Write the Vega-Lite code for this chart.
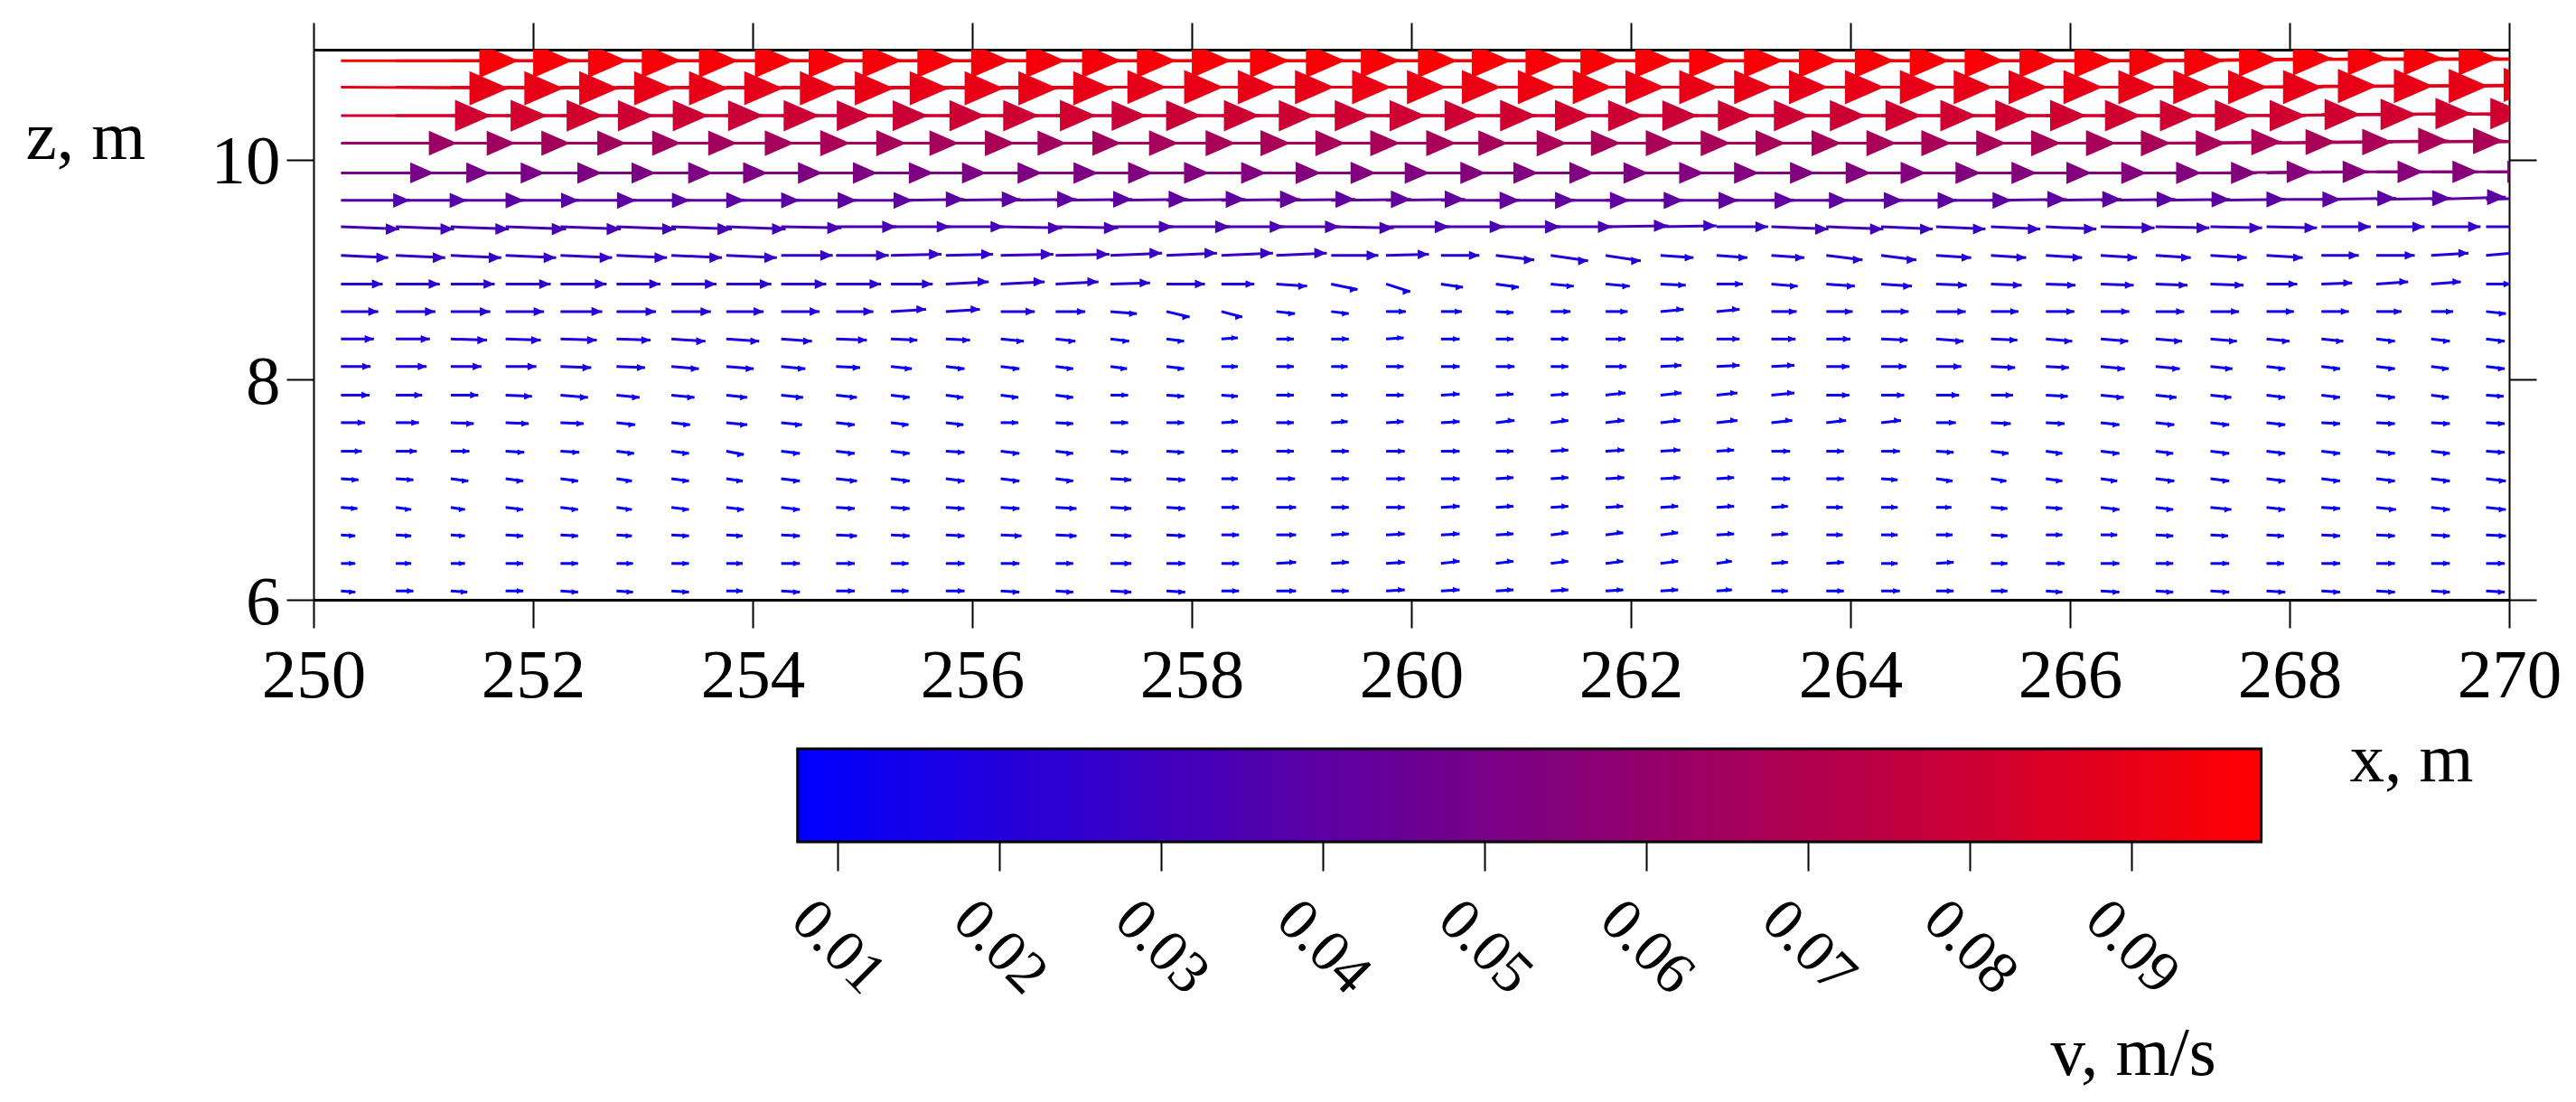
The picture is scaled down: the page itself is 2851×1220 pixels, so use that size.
{"$schema":"https://vega.github.io/schema/vega-lite/v6.json","background":"white","padding":{"left":28,"top":24,"right":0,"bottom":20},"bounds":"flush","spacing":165,"config":{"view":{"stroke":null},"axis":{"labelFont":"Liberation Serif","titleFont":"Liberation Serif","labelFontSize":77,"titleFontSize":77,"titleFontWeight":"normal","labelColor":"black","titleColor":"black","domainColor":"black","tickColor":"black","grid":false,"labelFlush":false,"labelOverlap":false}},"datasets":{"arrows":[
{"x":250.25,"z":10.9,"xe":251.87,"ze":10.9,"v":0.095},{"x":250.75,"z":10.9,"xe":252.36,"ze":10.9,"v":0.095},{"x":251.25,"z":10.9,"xe":252.86,"ze":10.9,"v":0.095},{"x":251.75,"z":10.9,"xe":253.35,"ze":10.9,"v":0.095},{"x":252.25,"z":10.9,"xe":253.87,"ze":10.9,"v":0.095},{"x":252.76,"z":10.9,"xe":254.38,"ze":10.9,"v":0.095},{"x":253.26,"z":10.9,"xe":254.87,"ze":10.9,"v":0.095},{"x":253.76,"z":10.9,"xe":255.36,"ze":10.9,"v":0.095},{"x":254.26,"z":10.9,"xe":255.86,"ze":10.9,"v":0.095},{"x":254.76,"z":10.9,"xe":256.35,"ze":10.9,"v":0.094},{"x":255.26,"z":10.9,"xe":256.85,"ze":10.9,"v":0.094},{"x":255.76,"z":10.9,"xe":257.36,"ze":10.9,"v":0.094},{"x":256.26,"z":10.9,"xe":257.86,"ze":10.9,"v":0.095},{"x":256.76,"z":10.9,"xe":258.36,"ze":10.9,"v":0.095},{"x":257.26,"z":10.9,"xe":258.89,"ze":10.9,"v":0.096},{"x":257.77,"z":10.9,"xe":259.4,"ze":10.9,"v":0.096},{"x":258.27,"z":10.9,"xe":259.9,"ze":10.9,"v":0.096},{"x":258.77,"z":10.9,"xe":260.42,"ze":10.9,"v":0.097},{"x":259.27,"z":10.9,"xe":260.91,"ze":10.9,"v":0.097},{"x":259.77,"z":10.9,"xe":261.4,"ze":10.9,"v":0.096},{"x":260.27,"z":10.9,"xe":261.9,"ze":10.9,"v":0.096},{"x":260.77,"z":10.9,"xe":262.4,"ze":10.9,"v":0.096},{"x":261.27,"z":10.9,"xe":262.89,"ze":10.9,"v":0.096},{"x":261.77,"z":10.9,"xe":263.39,"ze":10.9,"v":0.096},{"x":262.27,"z":10.9,"xe":263.89,"ze":10.9,"v":0.096},{"x":262.78,"z":10.9,"xe":264.4,"ze":10.9,"v":0.096},{"x":263.28,"z":10.9,"xe":264.9,"ze":10.9,"v":0.096},{"x":263.78,"z":10.9,"xe":265.4,"ze":10.9,"v":0.096},{"x":264.28,"z":10.9,"xe":265.9,"ze":10.9,"v":0.095},{"x":264.78,"z":10.9,"xe":266.4,"ze":10.9,"v":0.095},{"x":265.28,"z":10.9,"xe":266.9,"ze":10.9,"v":0.095},{"x":265.78,"z":10.9,"xe":267.4,"ze":10.9,"v":0.095},{"x":266.28,"z":10.9,"xe":267.9,"ze":10.91,"v":0.095},{"x":266.78,"z":10.9,"xe":268.39,"ze":10.92,"v":0.095},{"x":267.28,"z":10.9,"xe":268.89,"ze":10.92,"v":0.095},{"x":267.79,"z":10.91,"xe":269.4,"ze":10.92,"v":0.095},{"x":268.29,"z":10.91,"xe":269.9,"ze":10.92,"v":0.095},{"x":268.79,"z":10.91,"xe":270.4,"ze":10.92,"v":0.095},{"x":269.29,"z":10.91,"xe":270.9,"ze":10.92,"v":0.095},{"x":269.79,"z":10.91,"xe":271.4,"ze":10.92,"v":0.095},
{"x":250.25,"z":10.66,"xe":251.78,"ze":10.65,"v":0.09},{"x":250.75,"z":10.66,"xe":252.28,"ze":10.65,"v":0.09},{"x":251.25,"z":10.66,"xe":252.78,"ze":10.65,"v":0.09},{"x":251.75,"z":10.66,"xe":253.28,"ze":10.65,"v":0.09},{"x":252.25,"z":10.66,"xe":253.78,"ze":10.65,"v":0.09},{"x":252.76,"z":10.66,"xe":254.28,"ze":10.65,"v":0.089},{"x":253.26,"z":10.66,"xe":254.79,"ze":10.65,"v":0.09},{"x":253.76,"z":10.66,"xe":255.29,"ze":10.65,"v":0.09},{"x":254.26,"z":10.66,"xe":255.79,"ze":10.65,"v":0.09},{"x":254.76,"z":10.66,"xe":256.29,"ze":10.65,"v":0.09},{"x":255.26,"z":10.66,"xe":256.78,"ze":10.65,"v":0.09},{"x":255.76,"z":10.66,"xe":257.28,"ze":10.65,"v":0.09},{"x":256.26,"z":10.66,"xe":257.77,"ze":10.66,"v":0.089},{"x":256.76,"z":10.66,"xe":258.29,"ze":10.66,"v":0.09},{"x":257.26,"z":10.66,"xe":258.78,"ze":10.66,"v":0.09},{"x":257.77,"z":10.66,"xe":259.3,"ze":10.66,"v":0.09},{"x":258.27,"z":10.66,"xe":259.82,"ze":10.66,"v":0.091},{"x":258.77,"z":10.66,"xe":260.32,"ze":10.66,"v":0.091},{"x":259.27,"z":10.66,"xe":260.82,"ze":10.66,"v":0.091},{"x":259.77,"z":10.66,"xe":261.33,"ze":10.66,"v":0.092},{"x":260.27,"z":10.66,"xe":261.83,"ze":10.66,"v":0.092},{"x":260.77,"z":10.66,"xe":262.31,"ze":10.66,"v":0.091},{"x":261.27,"z":10.66,"xe":262.8,"ze":10.66,"v":0.09},{"x":261.77,"z":10.66,"xe":263.3,"ze":10.66,"v":0.09},{"x":262.27,"z":10.66,"xe":263.8,"ze":10.66,"v":0.09},{"x":262.78,"z":10.66,"xe":264.31,"ze":10.66,"v":0.09},{"x":263.28,"z":10.66,"xe":264.81,"ze":10.66,"v":0.09},{"x":263.78,"z":10.66,"xe":265.3,"ze":10.66,"v":0.09},{"x":264.28,"z":10.66,"xe":265.8,"ze":10.66,"v":0.09},{"x":264.78,"z":10.66,"xe":266.3,"ze":10.66,"v":0.09},{"x":265.28,"z":10.66,"xe":266.8,"ze":10.66,"v":0.09},{"x":265.78,"z":10.66,"xe":267.3,"ze":10.66,"v":0.09},{"x":266.28,"z":10.66,"xe":267.8,"ze":10.66,"v":0.09},{"x":266.78,"z":10.66,"xe":268.3,"ze":10.66,"v":0.09},{"x":267.28,"z":10.66,"xe":268.8,"ze":10.67,"v":0.09},{"x":267.79,"z":10.66,"xe":269.31,"ze":10.67,"v":0.09},{"x":268.29,"z":10.67,"xe":269.81,"ze":10.67,"v":0.09},{"x":268.79,"z":10.67,"xe":270.31,"ze":10.68,"v":0.09},{"x":269.29,"z":10.67,"xe":270.81,"ze":10.68,"v":0.09},{"x":269.79,"z":10.67,"xe":271.31,"ze":10.68,"v":0.09},
{"x":250.25,"z":10.4,"xe":251.62,"ze":10.4,"v":0.081},{"x":250.75,"z":10.4,"xe":252.13,"ze":10.4,"v":0.082},{"x":251.25,"z":10.4,"xe":252.64,"ze":10.4,"v":0.082},{"x":251.75,"z":10.4,"xe":253.1,"ze":10.4,"v":0.08},{"x":252.25,"z":10.4,"xe":253.6,"ze":10.4,"v":0.08},{"x":252.76,"z":10.4,"xe":254.1,"ze":10.4,"v":0.079},{"x":253.26,"z":10.4,"xe":254.61,"ze":10.4,"v":0.08},{"x":253.76,"z":10.4,"xe":255.09,"ze":10.4,"v":0.079},{"x":254.26,"z":10.4,"xe":255.6,"ze":10.4,"v":0.079},{"x":254.76,"z":10.4,"xe":256.12,"ze":10.4,"v":0.08},{"x":255.26,"z":10.4,"xe":256.61,"ze":10.4,"v":0.08},{"x":255.76,"z":10.4,"xe":257.13,"ze":10.4,"v":0.081},{"x":256.26,"z":10.4,"xe":257.59,"ze":10.4,"v":0.078},{"x":256.76,"z":10.4,"xe":258.09,"ze":10.4,"v":0.079},{"x":257.26,"z":10.4,"xe":258.62,"ze":10.4,"v":0.08},{"x":257.77,"z":10.4,"xe":259.12,"ze":10.4,"v":0.08},{"x":258.27,"z":10.4,"xe":259.63,"ze":10.4,"v":0.08},{"x":258.77,"z":10.4,"xe":260.13,"ze":10.4,"v":0.08},{"x":259.27,"z":10.4,"xe":260.63,"ze":10.4,"v":0.08},{"x":259.77,"z":10.4,"xe":261.14,"ze":10.4,"v":0.081},{"x":260.27,"z":10.4,"xe":261.64,"ze":10.4,"v":0.081},{"x":260.77,"z":10.4,"xe":262.12,"ze":10.4,"v":0.08},{"x":261.27,"z":10.4,"xe":262.61,"ze":10.4,"v":0.079},{"x":261.77,"z":10.4,"xe":263.12,"ze":10.4,"v":0.08},{"x":262.27,"z":10.4,"xe":263.63,"ze":10.4,"v":0.08},{"x":262.78,"z":10.4,"xe":264.14,"ze":10.4,"v":0.08},{"x":263.28,"z":10.4,"xe":264.65,"ze":10.4,"v":0.081},{"x":263.78,"z":10.4,"xe":265.15,"ze":10.4,"v":0.081},{"x":264.28,"z":10.4,"xe":265.65,"ze":10.4,"v":0.081},{"x":264.78,"z":10.4,"xe":266.15,"ze":10.4,"v":0.081},{"x":265.28,"z":10.4,"xe":266.65,"ze":10.4,"v":0.081},{"x":265.78,"z":10.4,"xe":267.15,"ze":10.4,"v":0.081},{"x":266.28,"z":10.4,"xe":267.65,"ze":10.4,"v":0.081},{"x":266.78,"z":10.4,"xe":268.15,"ze":10.4,"v":0.081},{"x":267.28,"z":10.4,"xe":268.65,"ze":10.41,"v":0.081},{"x":267.79,"z":10.4,"xe":269.16,"ze":10.41,"v":0.081},{"x":268.29,"z":10.41,"xe":269.66,"ze":10.42,"v":0.081},{"x":268.79,"z":10.41,"xe":270.16,"ze":10.42,"v":0.081},{"x":269.29,"z":10.41,"xe":270.66,"ze":10.42,"v":0.081},{"x":269.79,"z":10.41,"xe":271.16,"ze":10.42,"v":0.081},
{"x":250.25,"z":10.15,"xe":251.31,"ze":10.15,"v":0.063},{"x":250.75,"z":10.15,"xe":251.84,"ze":10.15,"v":0.064},{"x":251.25,"z":10.15,"xe":252.34,"ze":10.15,"v":0.065},{"x":251.75,"z":10.15,"xe":252.85,"ze":10.15,"v":0.065},{"x":252.25,"z":10.15,"xe":253.35,"ze":10.15,"v":0.065},{"x":252.76,"z":10.15,"xe":253.86,"ze":10.15,"v":0.065},{"x":253.26,"z":10.15,"xe":254.38,"ze":10.15,"v":0.066},{"x":253.76,"z":10.15,"xe":254.89,"ze":10.15,"v":0.067},{"x":254.26,"z":10.15,"xe":255.4,"ze":10.15,"v":0.067},{"x":254.76,"z":10.15,"xe":255.88,"ze":10.15,"v":0.066},{"x":255.26,"z":10.15,"xe":256.39,"ze":10.15,"v":0.067},{"x":255.76,"z":10.15,"xe":256.86,"ze":10.15,"v":0.065},{"x":256.26,"z":10.15,"xe":257.36,"ze":10.15,"v":0.065},{"x":256.76,"z":10.15,"xe":257.88,"ze":10.15,"v":0.066},{"x":257.26,"z":10.15,"xe":258.4,"ze":10.15,"v":0.067},{"x":257.77,"z":10.15,"xe":258.9,"ze":10.15,"v":0.067},{"x":258.27,"z":10.15,"xe":259.4,"ze":10.15,"v":0.067},{"x":258.77,"z":10.15,"xe":259.9,"ze":10.15,"v":0.067},{"x":259.27,"z":10.15,"xe":260.41,"ze":10.15,"v":0.067},{"x":259.77,"z":10.15,"xe":260.88,"ze":10.15,"v":0.066},{"x":260.27,"z":10.15,"xe":261.42,"ze":10.15,"v":0.068},{"x":260.77,"z":10.15,"xe":261.91,"ze":10.15,"v":0.067},{"x":261.27,"z":10.15,"xe":262.41,"ze":10.15,"v":0.067},{"x":261.77,"z":10.15,"xe":262.91,"ze":10.15,"v":0.067},{"x":262.27,"z":10.15,"xe":263.41,"ze":10.15,"v":0.067},{"x":262.78,"z":10.15,"xe":263.92,"ze":10.15,"v":0.067},{"x":263.28,"z":10.15,"xe":264.42,"ze":10.15,"v":0.067},{"x":263.78,"z":10.15,"xe":264.92,"ze":10.15,"v":0.067},{"x":264.28,"z":10.15,"xe":265.42,"ze":10.15,"v":0.067},{"x":264.78,"z":10.15,"xe":265.92,"ze":10.15,"v":0.067},{"x":265.28,"z":10.15,"xe":266.42,"ze":10.15,"v":0.067},{"x":265.78,"z":10.15,"xe":266.92,"ze":10.15,"v":0.067},{"x":266.28,"z":10.15,"xe":267.42,"ze":10.15,"v":0.067},{"x":266.78,"z":10.15,"xe":267.93,"ze":10.16,"v":0.068},{"x":267.28,"z":10.15,"xe":268.42,"ze":10.16,"v":0.067},{"x":267.79,"z":10.15,"xe":268.94,"ze":10.16,"v":0.068},{"x":268.29,"z":10.16,"xe":269.45,"ze":10.17,"v":0.068},{"x":268.79,"z":10.16,"xe":269.95,"ze":10.17,"v":0.068},{"x":269.29,"z":10.16,"xe":270.45,"ze":10.17,"v":0.068},{"x":269.79,"z":10.16,"xe":270.95,"ze":10.17,"v":0.068},
{"x":250.25,"z":9.88,"xe":251.1,"ze":9.88,"v":0.05},{"x":250.75,"z":9.88,"xe":251.61,"ze":9.88,"v":0.05},{"x":251.25,"z":9.88,"xe":252.11,"ze":9.88,"v":0.051},{"x":251.75,"z":9.88,"xe":252.63,"ze":9.88,"v":0.052},{"x":252.25,"z":9.88,"xe":253.12,"ze":9.88,"v":0.051},{"x":252.76,"z":9.88,"xe":253.64,"ze":9.88,"v":0.052},{"x":253.26,"z":9.88,"xe":254.14,"ze":9.88,"v":0.052},{"x":253.76,"z":9.88,"xe":254.64,"ze":9.88,"v":0.052},{"x":254.26,"z":9.88,"xe":255.14,"ze":9.88,"v":0.052},{"x":254.76,"z":9.88,"xe":255.65,"ze":9.88,"v":0.052},{"x":255.26,"z":9.88,"xe":256.13,"ze":9.88,"v":0.051},{"x":255.76,"z":9.88,"xe":256.64,"ze":9.88,"v":0.052},{"x":256.26,"z":9.88,"xe":257.15,"ze":9.88,"v":0.052},{"x":256.76,"z":9.88,"xe":257.65,"ze":9.88,"v":0.053},{"x":257.26,"z":9.88,"xe":258.16,"ze":9.88,"v":0.053},{"x":257.77,"z":9.88,"xe":258.68,"ze":9.88,"v":0.053},{"x":258.27,"z":9.88,"xe":259.18,"ze":9.88,"v":0.054},{"x":258.77,"z":9.88,"xe":259.68,"ze":9.88,"v":0.054},{"x":259.27,"z":9.88,"xe":260.17,"ze":9.88,"v":0.053},{"x":259.77,"z":9.88,"xe":260.68,"ze":9.88,"v":0.054},{"x":260.27,"z":9.88,"xe":261.16,"ze":9.88,"v":0.053},{"x":260.77,"z":9.88,"xe":261.67,"ze":9.88,"v":0.053},{"x":261.27,"z":9.88,"xe":262.16,"ze":9.88,"v":0.052},{"x":261.77,"z":9.88,"xe":262.67,"ze":9.88,"v":0.053},{"x":262.27,"z":9.88,"xe":263.17,"ze":9.88,"v":0.053},{"x":262.78,"z":9.88,"xe":263.68,"ze":9.88,"v":0.053},{"x":263.28,"z":9.88,"xe":264.19,"ze":9.88,"v":0.054},{"x":263.78,"z":9.88,"xe":264.69,"ze":9.88,"v":0.054},{"x":264.28,"z":9.88,"xe":265.19,"ze":9.88,"v":0.054},{"x":264.78,"z":9.88,"xe":265.7,"ze":9.88,"v":0.054},{"x":265.28,"z":9.88,"xe":266.2,"ze":9.88,"v":0.054},{"x":265.78,"z":9.88,"xe":266.7,"ze":9.88,"v":0.054},{"x":266.28,"z":9.88,"xe":267.2,"ze":9.88,"v":0.054},{"x":266.78,"z":9.88,"xe":267.7,"ze":9.88,"v":0.054},{"x":267.28,"z":9.88,"xe":268.21,"ze":9.89,"v":0.055},{"x":267.79,"z":9.88,"xe":268.72,"ze":9.89,"v":0.055},{"x":268.29,"z":9.89,"xe":269.22,"ze":9.89,"v":0.055},{"x":268.79,"z":9.89,"xe":269.72,"ze":9.89,"v":0.055},{"x":269.29,"z":9.89,"xe":270.22,"ze":9.89,"v":0.055},{"x":269.79,"z":9.89,"xe":270.72,"ze":9.89,"v":0.055},
{"x":250.25,"z":9.63,"xe":250.88,"ze":9.63,"v":0.037},{"x":250.75,"z":9.63,"xe":251.4,"ze":9.63,"v":0.038},{"x":251.25,"z":9.63,"xe":251.92,"ze":9.63,"v":0.04},{"x":251.75,"z":9.63,"xe":252.42,"ze":9.63,"v":0.039},{"x":252.25,"z":9.63,"xe":252.94,"ze":9.63,"v":0.041},{"x":252.76,"z":9.63,"xe":253.43,"ze":9.63,"v":0.039},{"x":253.26,"z":9.63,"xe":253.93,"ze":9.63,"v":0.04},{"x":253.76,"z":9.63,"xe":254.43,"ze":9.63,"v":0.04},{"x":254.26,"z":9.63,"xe":254.95,"ze":9.63,"v":0.041},{"x":254.76,"z":9.63,"xe":255.46,"ze":9.63,"v":0.041},{"x":255.26,"z":9.63,"xe":255.93,"ze":9.64,"v":0.04},{"x":255.76,"z":9.63,"xe":256.44,"ze":9.64,"v":0.04},{"x":256.26,"z":9.63,"xe":256.95,"ze":9.64,"v":0.041},{"x":256.76,"z":9.63,"xe":257.46,"ze":9.64,"v":0.041},{"x":257.26,"z":9.63,"xe":257.97,"ze":9.64,"v":0.042},{"x":257.77,"z":9.63,"xe":258.49,"ze":9.64,"v":0.042},{"x":258.27,"z":9.63,"xe":258.99,"ze":9.64,"v":0.043},{"x":258.77,"z":9.63,"xe":259.49,"ze":9.64,"v":0.042},{"x":259.27,"z":9.63,"xe":260,"ze":9.64,"v":0.043},{"x":259.77,"z":9.63,"xe":260.49,"ze":9.64,"v":0.043},{"x":260.27,"z":9.63,"xe":260.99,"ze":9.63,"v":0.043},{"x":260.77,"z":9.63,"xe":261.49,"ze":9.63,"v":0.042},{"x":261.27,"z":9.63,"xe":261.99,"ze":9.63,"v":0.042},{"x":261.77,"z":9.63,"xe":262.48,"ze":9.63,"v":0.042},{"x":262.27,"z":9.63,"xe":262.98,"ze":9.63,"v":0.042},{"x":262.78,"z":9.63,"xe":263.49,"ze":9.63,"v":0.042},{"x":263.28,"z":9.63,"xe":263.98,"ze":9.63,"v":0.041},{"x":263.78,"z":9.63,"xe":264.48,"ze":9.63,"v":0.041},{"x":264.28,"z":9.63,"xe":264.97,"ze":9.63,"v":0.041},{"x":264.78,"z":9.63,"xe":265.47,"ze":9.63,"v":0.041},{"x":265.28,"z":9.63,"xe":265.97,"ze":9.64,"v":0.041},{"x":265.78,"z":9.63,"xe":266.47,"ze":9.64,"v":0.041},{"x":266.28,"z":9.63,"xe":266.96,"ze":9.64,"v":0.04},{"x":266.78,"z":9.63,"xe":267.46,"ze":9.64,"v":0.04},{"x":267.28,"z":9.63,"xe":267.96,"ze":9.64,"v":0.04},{"x":267.79,"z":9.64,"xe":268.47,"ze":9.64,"v":0.04},{"x":268.29,"z":9.64,"xe":268.97,"ze":9.65,"v":0.04},{"x":268.79,"z":9.64,"xe":269.47,"ze":9.65,"v":0.04},{"x":269.29,"z":9.64,"xe":269.97,"ze":9.66,"v":0.04},{"x":269.79,"z":9.64,"xe":270.47,"ze":9.66,"v":0.04},
{"x":250.25,"z":9.39,"xe":250.78,"ze":9.37,"v":0.031},{"x":250.75,"z":9.39,"xe":251.28,"ze":9.37,"v":0.032},{"x":251.25,"z":9.39,"xe":251.78,"ze":9.37,"v":0.032},{"x":251.75,"z":9.39,"xe":252.3,"ze":9.37,"v":0.033},{"x":252.25,"z":9.39,"xe":252.8,"ze":9.37,"v":0.033},{"x":252.76,"z":9.39,"xe":253.3,"ze":9.37,"v":0.032},{"x":253.26,"z":9.39,"xe":253.81,"ze":9.37,"v":0.033},{"x":253.76,"z":9.39,"xe":254.3,"ze":9.37,"v":0.032},{"x":254.26,"z":9.39,"xe":254.81,"ze":9.38,"v":0.033},{"x":254.76,"z":9.39,"xe":255.31,"ze":9.39,"v":0.033},{"x":255.26,"z":9.39,"xe":255.8,"ze":9.39,"v":0.032},{"x":255.76,"z":9.39,"xe":256.29,"ze":9.39,"v":0.032},{"x":256.26,"z":9.39,"xe":256.82,"ze":9.38,"v":0.033},{"x":256.76,"z":9.39,"xe":257.33,"ze":9.38,"v":0.033},{"x":257.26,"z":9.39,"xe":257.83,"ze":9.39,"v":0.033},{"x":257.77,"z":9.39,"xe":258.35,"ze":9.39,"v":0.034},{"x":258.27,"z":9.39,"xe":258.84,"ze":9.39,"v":0.033},{"x":258.77,"z":9.39,"xe":259.35,"ze":9.39,"v":0.034},{"x":259.27,"z":9.39,"xe":259.84,"ze":9.38,"v":0.033},{"x":259.77,"z":9.39,"xe":260.35,"ze":9.39,"v":0.034},{"x":260.27,"z":9.39,"xe":260.85,"ze":9.39,"v":0.034},{"x":260.77,"z":9.39,"xe":261.36,"ze":9.39,"v":0.035},{"x":261.27,"z":9.39,"xe":261.83,"ze":9.39,"v":0.033},{"x":261.77,"z":9.39,"xe":262.34,"ze":9.4,"v":0.033},{"x":262.27,"z":9.39,"xe":262.78,"ze":9.4,"v":0.03},{"x":262.78,"z":9.39,"xe":263.25,"ze":9.39,"v":0.028},{"x":263.28,"z":9.39,"xe":263.8,"ze":9.37,"v":0.031},{"x":263.78,"z":9.39,"xe":264.3,"ze":9.37,"v":0.031},{"x":264.28,"z":9.39,"xe":264.75,"ze":9.37,"v":0.028},{"x":264.78,"z":9.39,"xe":265.23,"ze":9.37,"v":0.027},{"x":265.28,"z":9.39,"xe":265.73,"ze":9.37,"v":0.027},{"x":265.78,"z":9.39,"xe":266.24,"ze":9.37,"v":0.027},{"x":266.28,"z":9.39,"xe":266.77,"ze":9.38,"v":0.029},{"x":266.78,"z":9.39,"xe":267.27,"ze":9.38,"v":0.029},{"x":267.28,"z":9.39,"xe":267.75,"ze":9.38,"v":0.028},{"x":267.79,"z":9.39,"xe":268.25,"ze":9.38,"v":0.027},{"x":268.29,"z":9.39,"xe":268.74,"ze":9.39,"v":0.027},{"x":268.79,"z":9.39,"xe":269.23,"ze":9.39,"v":0.026},{"x":269.29,"z":9.39,"xe":269.74,"ze":9.39,"v":0.027},{"x":269.79,"z":9.39,"xe":270.23,"ze":9.39,"v":0.026},
{"x":250.25,"z":9.13,"xe":250.68,"ze":9.11,"v":0.025},{"x":250.75,"z":9.13,"xe":251.2,"ze":9.11,"v":0.027},{"x":251.25,"z":9.13,"xe":251.71,"ze":9.11,"v":0.027},{"x":251.75,"z":9.13,"xe":252.21,"ze":9.11,"v":0.027},{"x":252.25,"z":9.13,"xe":252.72,"ze":9.11,"v":0.027},{"x":252.76,"z":9.13,"xe":253.22,"ze":9.11,"v":0.027},{"x":253.26,"z":9.13,"xe":253.72,"ze":9.11,"v":0.027},{"x":253.76,"z":9.13,"xe":254.22,"ze":9.11,"v":0.027},{"x":254.26,"z":9.13,"xe":254.73,"ze":9.13,"v":0.027},{"x":254.76,"z":9.13,"xe":255.24,"ze":9.13,"v":0.028},{"x":255.26,"z":9.13,"xe":255.72,"ze":9.14,"v":0.027},{"x":255.76,"z":9.13,"xe":256.19,"ze":9.14,"v":0.025},{"x":256.26,"z":9.13,"xe":256.74,"ze":9.14,"v":0.028},{"x":256.76,"z":9.13,"xe":257.25,"ze":9.14,"v":0.029},{"x":257.26,"z":9.13,"xe":257.73,"ze":9.15,"v":0.028},{"x":257.77,"z":9.13,"xe":258.23,"ze":9.15,"v":0.027},{"x":258.27,"z":9.13,"xe":258.74,"ze":9.15,"v":0.028},{"x":258.77,"z":9.13,"xe":259.23,"ze":9.15,"v":0.027},{"x":259.27,"z":9.13,"xe":259.7,"ze":9.13,"v":0.025},{"x":259.77,"z":9.13,"xe":260.16,"ze":9.14,"v":0.023},{"x":260.27,"z":9.13,"xe":260.62,"ze":9.13,"v":0.021},{"x":260.77,"z":9.13,"xe":261.12,"ze":9.09,"v":0.021},{"x":261.27,"z":9.13,"xe":261.61,"ze":9.08,"v":0.02},{"x":261.77,"z":9.13,"xe":262.09,"ze":9.08,"v":0.019},{"x":262.27,"z":9.13,"xe":262.57,"ze":9.11,"v":0.017},{"x":262.78,"z":9.13,"xe":263.06,"ze":9.11,"v":0.017},{"x":263.28,"z":9.13,"xe":263.58,"ze":9.11,"v":0.018},{"x":263.78,"z":9.13,"xe":264.11,"ze":9.09,"v":0.019},{"x":264.28,"z":9.13,"xe":264.6,"ze":9.09,"v":0.019},{"x":264.78,"z":9.13,"xe":265.1,"ze":9.11,"v":0.019},{"x":265.28,"z":9.13,"xe":265.6,"ze":9.11,"v":0.019},{"x":265.78,"z":9.13,"xe":266.11,"ze":9.11,"v":0.019},{"x":266.28,"z":9.13,"xe":266.61,"ze":9.11,"v":0.019},{"x":266.78,"z":9.13,"xe":267.1,"ze":9.11,"v":0.019},{"x":267.28,"z":9.13,"xe":267.61,"ze":9.11,"v":0.019},{"x":267.79,"z":9.13,"xe":268.12,"ze":9.11,"v":0.019},{"x":268.29,"z":9.13,"xe":268.63,"ze":9.13,"v":0.02},{"x":268.79,"z":9.13,"xe":269.14,"ze":9.13,"v":0.02},{"x":269.29,"z":9.13,"xe":269.63,"ze":9.15,"v":0.02},{"x":269.79,"z":9.13,"xe":270.12,"ze":9.16,"v":0.019},
{"x":250.25,"z":8.87,"xe":250.63,"ze":8.87,"v":0.022},{"x":250.75,"z":8.87,"xe":251.15,"ze":8.87,"v":0.023},{"x":251.25,"z":8.87,"xe":251.65,"ze":8.87,"v":0.023},{"x":251.75,"z":8.87,"xe":252.16,"ze":8.87,"v":0.024},{"x":252.25,"z":8.87,"xe":252.67,"ze":8.87,"v":0.025},{"x":252.76,"z":8.87,"xe":253.16,"ze":8.87,"v":0.023},{"x":253.26,"z":8.87,"xe":253.67,"ze":8.87,"v":0.024},{"x":253.76,"z":8.87,"xe":254.17,"ze":8.87,"v":0.024},{"x":254.26,"z":8.87,"xe":254.67,"ze":8.87,"v":0.024},{"x":254.76,"z":8.87,"xe":255.17,"ze":8.87,"v":0.024},{"x":255.26,"z":8.87,"xe":255.64,"ze":8.87,"v":0.022},{"x":255.76,"z":8.87,"xe":256.15,"ze":8.89,"v":0.023},{"x":256.26,"z":8.87,"xe":256.66,"ze":8.89,"v":0.023},{"x":256.76,"z":8.87,"xe":257.15,"ze":8.89,"v":0.023},{"x":257.26,"z":8.87,"xe":257.62,"ze":8.88,"v":0.021},{"x":257.77,"z":8.87,"xe":258.12,"ze":8.87,"v":0.02},{"x":258.27,"z":8.87,"xe":258.57,"ze":8.87,"v":0.017},{"x":258.77,"z":8.87,"xe":259.05,"ze":8.85,"v":0.017},{"x":259.27,"z":8.87,"xe":259.51,"ze":8.82,"v":0.014},{"x":259.77,"z":8.87,"xe":259.99,"ze":8.8,"v":0.013},{"x":260.27,"z":8.87,"xe":260.47,"ze":8.84,"v":0.012},{"x":260.77,"z":8.87,"xe":260.98,"ze":8.84,"v":0.013},{"x":261.27,"z":8.87,"xe":261.48,"ze":8.85,"v":0.012},{"x":261.77,"z":8.87,"xe":261.99,"ze":8.85,"v":0.013},{"x":262.27,"z":8.87,"xe":262.5,"ze":8.86,"v":0.013},{"x":262.78,"z":8.87,"xe":263.02,"ze":8.87,"v":0.014},{"x":263.28,"z":8.87,"xe":263.52,"ze":8.85,"v":0.014},{"x":263.78,"z":8.87,"xe":264.04,"ze":8.85,"v":0.015},{"x":264.28,"z":8.87,"xe":264.56,"ze":8.85,"v":0.017},{"x":264.78,"z":8.87,"xe":265.06,"ze":8.86,"v":0.017},{"x":265.28,"z":8.87,"xe":265.56,"ze":8.86,"v":0.017},{"x":265.78,"z":8.87,"xe":266.05,"ze":8.86,"v":0.016},{"x":266.28,"z":8.87,"xe":266.58,"ze":8.86,"v":0.017},{"x":266.78,"z":8.87,"xe":267.07,"ze":8.86,"v":0.017},{"x":267.28,"z":8.87,"xe":267.58,"ze":8.86,"v":0.017},{"x":267.79,"z":8.87,"xe":268.07,"ze":8.87,"v":0.017},{"x":268.29,"z":8.87,"xe":268.57,"ze":8.88,"v":0.017},{"x":268.79,"z":8.87,"xe":269.08,"ze":8.89,"v":0.017},{"x":269.29,"z":8.87,"xe":269.56,"ze":8.89,"v":0.016},{"x":269.79,"z":8.87,"xe":270.02,"ze":8.87,"v":0.014},
{"x":250.25,"z":8.62,"xe":250.59,"ze":8.62,"v":0.02},{"x":250.75,"z":8.62,"xe":251.11,"ze":8.62,"v":0.021},{"x":251.25,"z":8.62,"xe":251.61,"ze":8.62,"v":0.021},{"x":251.75,"z":8.62,"xe":252.1,"ze":8.62,"v":0.021},{"x":252.25,"z":8.62,"xe":252.63,"ze":8.62,"v":0.022},{"x":252.76,"z":8.62,"xe":253.12,"ze":8.62,"v":0.021},{"x":253.26,"z":8.62,"xe":253.62,"ze":8.62,"v":0.021},{"x":253.76,"z":8.62,"xe":254.1,"ze":8.62,"v":0.02},{"x":254.26,"z":8.62,"xe":254.61,"ze":8.62,"v":0.02},{"x":254.76,"z":8.62,"xe":255.1,"ze":8.62,"v":0.02},{"x":255.26,"z":8.62,"xe":255.58,"ze":8.64,"v":0.019},{"x":255.76,"z":8.62,"xe":256.07,"ze":8.64,"v":0.018},{"x":256.26,"z":8.62,"xe":256.57,"ze":8.62,"v":0.018},{"x":256.76,"z":8.62,"xe":257.03,"ze":8.62,"v":0.016},{"x":257.26,"z":8.62,"xe":257.5,"ze":8.6,"v":0.014},{"x":257.77,"z":8.62,"xe":257.98,"ze":8.57,"v":0.012},{"x":258.27,"z":8.62,"xe":258.46,"ze":8.57,"v":0.011},{"x":258.77,"z":8.62,"xe":258.94,"ze":8.6,"v":0.01},{"x":259.27,"z":8.62,"xe":259.43,"ze":8.6,"v":0.01},{"x":259.77,"z":8.62,"xe":259.95,"ze":8.62,"v":0.011},{"x":260.27,"z":8.62,"xe":260.46,"ze":8.62,"v":0.011},{"x":260.77,"z":8.62,"xe":260.93,"ze":8.61,"v":0.01},{"x":261.27,"z":8.62,"xe":261.45,"ze":8.62,"v":0.011},{"x":261.77,"z":8.62,"xe":261.97,"ze":8.62,"v":0.012},{"x":262.27,"z":8.62,"xe":262.48,"ze":8.64,"v":0.012},{"x":262.78,"z":8.62,"xe":262.99,"ze":8.64,"v":0.013},{"x":263.28,"z":8.62,"xe":263.51,"ze":8.62,"v":0.014},{"x":263.78,"z":8.62,"xe":264.02,"ze":8.62,"v":0.014},{"x":264.28,"z":8.62,"xe":264.53,"ze":8.62,"v":0.015},{"x":264.78,"z":8.62,"xe":265.05,"ze":8.62,"v":0.016},{"x":265.28,"z":8.62,"xe":265.53,"ze":8.62,"v":0.015},{"x":265.78,"z":8.62,"xe":266.04,"ze":8.62,"v":0.015},{"x":266.28,"z":8.62,"xe":266.54,"ze":8.62,"v":0.015},{"x":266.78,"z":8.62,"xe":267.04,"ze":8.62,"v":0.015},{"x":267.28,"z":8.62,"xe":267.54,"ze":8.62,"v":0.015},{"x":267.79,"z":8.62,"xe":268.04,"ze":8.62,"v":0.015},{"x":268.29,"z":8.62,"xe":268.54,"ze":8.62,"v":0.015},{"x":268.79,"z":8.62,"xe":269.02,"ze":8.62,"v":0.014},{"x":269.29,"z":8.62,"xe":269.49,"ze":8.62,"v":0.012},{"x":269.79,"z":8.62,"xe":269.97,"ze":8.6,"v":0.011},
{"x":250.25,"z":8.37,"xe":250.55,"ze":8.37,"v":0.018},{"x":250.75,"z":8.37,"xe":251.06,"ze":8.37,"v":0.018},{"x":251.25,"z":8.37,"xe":251.58,"ze":8.36,"v":0.019},{"x":251.75,"z":8.37,"xe":252.07,"ze":8.36,"v":0.019},{"x":252.25,"z":8.37,"xe":252.58,"ze":8.36,"v":0.019},{"x":252.76,"z":8.37,"xe":253.07,"ze":8.36,"v":0.018},{"x":253.26,"z":8.37,"xe":253.57,"ze":8.35,"v":0.018},{"x":253.76,"z":8.37,"xe":254.06,"ze":8.35,"v":0.017},{"x":254.26,"z":8.37,"xe":254.54,"ze":8.35,"v":0.017},{"x":254.76,"z":8.37,"xe":255.04,"ze":8.36,"v":0.017},{"x":255.26,"z":8.37,"xe":255.5,"ze":8.36,"v":0.014},{"x":255.76,"z":8.37,"xe":255.98,"ze":8.36,"v":0.013},{"x":256.26,"z":8.37,"xe":256.47,"ze":8.35,"v":0.012},{"x":256.76,"z":8.37,"xe":256.94,"ze":8.35,"v":0.011},{"x":257.26,"z":8.37,"xe":257.43,"ze":8.35,"v":0.01},{"x":257.77,"z":8.37,"xe":257.93,"ze":8.35,"v":0.009},{"x":258.27,"z":8.37,"xe":258.42,"ze":8.38,"v":0.009},{"x":258.77,"z":8.37,"xe":258.93,"ze":8.37,"v":0.01},{"x":259.27,"z":8.37,"xe":259.43,"ze":8.37,"v":0.01},{"x":259.77,"z":8.37,"xe":259.93,"ze":8.38,"v":0.009},{"x":260.27,"z":8.37,"xe":260.44,"ze":8.37,"v":0.01},{"x":260.77,"z":8.37,"xe":260.93,"ze":8.37,"v":0.009},{"x":261.27,"z":8.37,"xe":261.43,"ze":8.37,"v":0.01},{"x":261.77,"z":8.37,"xe":261.95,"ze":8.37,"v":0.011},{"x":262.27,"z":8.37,"xe":262.48,"ze":8.37,"v":0.012},{"x":262.78,"z":8.37,"xe":262.99,"ze":8.37,"v":0.012},{"x":263.28,"z":8.37,"xe":263.5,"ze":8.37,"v":0.013},{"x":263.78,"z":8.37,"xe":264,"ze":8.37,"v":0.013},{"x":264.28,"z":8.37,"xe":264.52,"ze":8.36,"v":0.014},{"x":264.78,"z":8.37,"xe":265.03,"ze":8.35,"v":0.015},{"x":265.28,"z":8.37,"xe":265.52,"ze":8.36,"v":0.014},{"x":265.78,"z":8.37,"xe":266.02,"ze":8.35,"v":0.014},{"x":266.28,"z":8.37,"xe":266.53,"ze":8.35,"v":0.015},{"x":266.78,"z":8.37,"xe":267.02,"ze":8.35,"v":0.014},{"x":267.28,"z":8.37,"xe":267.52,"ze":8.35,"v":0.014},{"x":267.79,"z":8.37,"xe":268,"ze":8.35,"v":0.013},{"x":268.29,"z":8.37,"xe":268.49,"ze":8.35,"v":0.012},{"x":268.79,"z":8.37,"xe":268.96,"ze":8.35,"v":0.01},{"x":269.29,"z":8.37,"xe":269.46,"ze":8.35,"v":0.01},{"x":269.79,"z":8.37,"xe":269.96,"ze":8.35,"v":0.01},
{"x":250.25,"z":8.12,"xe":250.52,"ze":8.12,"v":0.016},{"x":250.75,"z":8.12,"xe":251.03,"ze":8.12,"v":0.017},{"x":251.25,"z":8.12,"xe":251.53,"ze":8.12,"v":0.017},{"x":251.75,"z":8.12,"xe":252.03,"ze":8.12,"v":0.017},{"x":252.25,"z":8.12,"xe":252.53,"ze":8.11,"v":0.017},{"x":252.76,"z":8.12,"xe":253.02,"ze":8.11,"v":0.015},{"x":253.26,"z":8.12,"xe":253.51,"ze":8.1,"v":0.015},{"x":253.76,"z":8.12,"xe":254.01,"ze":8.1,"v":0.015},{"x":254.26,"z":8.12,"xe":254.48,"ze":8.1,"v":0.013},{"x":254.76,"z":8.12,"xe":254.98,"ze":8.11,"v":0.013},{"x":255.26,"z":8.12,"xe":255.45,"ze":8.1,"v":0.011},{"x":255.76,"z":8.12,"xe":255.93,"ze":8.1,"v":0.01},{"x":256.26,"z":8.12,"xe":256.43,"ze":8.1,"v":0.01},{"x":256.76,"z":8.12,"xe":256.92,"ze":8.1,"v":0.009},{"x":257.26,"z":8.12,"xe":257.41,"ze":8.1,"v":0.009},{"x":257.77,"z":8.12,"xe":257.93,"ze":8.1,"v":0.009},{"x":258.27,"z":8.12,"xe":258.42,"ze":8.12,"v":0.009},{"x":258.77,"z":8.12,"xe":258.93,"ze":8.12,"v":0.01},{"x":259.27,"z":8.12,"xe":259.42,"ze":8.12,"v":0.009},{"x":259.77,"z":8.12,"xe":259.93,"ze":8.12,"v":0.009},{"x":260.27,"z":8.12,"xe":260.44,"ze":8.12,"v":0.01},{"x":260.77,"z":8.12,"xe":260.94,"ze":8.12,"v":0.01},{"x":261.27,"z":8.12,"xe":261.43,"ze":8.12,"v":0.01},{"x":261.77,"z":8.12,"xe":261.96,"ze":8.12,"v":0.011},{"x":262.27,"z":8.12,"xe":262.46,"ze":8.13,"v":0.011},{"x":262.78,"z":8.12,"xe":262.99,"ze":8.13,"v":0.012},{"x":263.28,"z":8.12,"xe":263.49,"ze":8.13,"v":0.012},{"x":263.78,"z":8.12,"xe":263.99,"ze":8.12,"v":0.013},{"x":264.28,"z":8.12,"xe":264.51,"ze":8.12,"v":0.014},{"x":264.78,"z":8.12,"xe":265.01,"ze":8.12,"v":0.014},{"x":265.28,"z":8.12,"xe":265.5,"ze":8.11,"v":0.013},{"x":265.78,"z":8.12,"xe":265.99,"ze":8.11,"v":0.013},{"x":266.28,"z":8.12,"xe":266.5,"ze":8.1,"v":0.013},{"x":266.78,"z":8.12,"xe":267,"ze":8.1,"v":0.013},{"x":267.28,"z":8.12,"xe":267.48,"ze":8.1,"v":0.012},{"x":267.79,"z":8.12,"xe":267.96,"ze":8.1,"v":0.01},{"x":268.29,"z":8.12,"xe":268.46,"ze":8.1,"v":0.01},{"x":268.79,"z":8.12,"xe":268.96,"ze":8.1,"v":0.01},{"x":269.29,"z":8.12,"xe":269.45,"ze":8.1,"v":0.01},{"x":269.79,"z":8.12,"xe":269.96,"ze":8.1,"v":0.01},
{"x":250.25,"z":7.86,"xe":250.51,"ze":7.86,"v":0.015},{"x":250.75,"z":7.86,"xe":250.99,"ze":7.86,"v":0.014},{"x":251.25,"z":7.86,"xe":251.5,"ze":7.86,"v":0.015},{"x":251.75,"z":7.86,"xe":251.99,"ze":7.85,"v":0.014},{"x":252.25,"z":7.86,"xe":252.5,"ze":7.84,"v":0.015},{"x":252.76,"z":7.86,"xe":252.97,"ze":7.84,"v":0.013},{"x":253.26,"z":7.86,"xe":253.47,"ze":7.84,"v":0.012},{"x":253.76,"z":7.86,"xe":253.95,"ze":7.84,"v":0.011},{"x":254.26,"z":7.86,"xe":254.46,"ze":7.84,"v":0.012},{"x":254.76,"z":7.86,"xe":254.95,"ze":7.84,"v":0.011},{"x":255.26,"z":7.86,"xe":255.43,"ze":7.84,"v":0.01},{"x":255.76,"z":7.86,"xe":255.92,"ze":7.84,"v":0.009},{"x":256.26,"z":7.86,"xe":256.42,"ze":7.84,"v":0.009},{"x":256.76,"z":7.86,"xe":256.92,"ze":7.84,"v":0.009},{"x":257.26,"z":7.86,"xe":257.42,"ze":7.86,"v":0.009},{"x":257.77,"z":7.86,"xe":257.93,"ze":7.85,"v":0.009},{"x":258.27,"z":7.86,"xe":258.42,"ze":7.85,"v":0.009},{"x":258.77,"z":7.86,"xe":258.93,"ze":7.86,"v":0.009},{"x":259.27,"z":7.86,"xe":259.42,"ze":7.86,"v":0.009},{"x":259.77,"z":7.86,"xe":259.93,"ze":7.86,"v":0.009},{"x":260.27,"z":7.86,"xe":260.44,"ze":7.87,"v":0.01},{"x":260.77,"z":7.86,"xe":260.93,"ze":7.87,"v":0.009},{"x":261.27,"z":7.86,"xe":261.43,"ze":7.87,"v":0.01},{"x":261.77,"z":7.86,"xe":261.95,"ze":7.88,"v":0.011},{"x":262.27,"z":7.86,"xe":262.46,"ze":7.88,"v":0.011},{"x":262.78,"z":7.86,"xe":262.97,"ze":7.88,"v":0.011},{"x":263.28,"z":7.86,"xe":263.49,"ze":7.88,"v":0.012},{"x":263.78,"z":7.86,"xe":263.99,"ze":7.86,"v":0.012},{"x":264.28,"z":7.86,"xe":264.49,"ze":7.86,"v":0.012},{"x":264.78,"z":7.86,"xe":264.99,"ze":7.86,"v":0.013},{"x":265.28,"z":7.86,"xe":265.48,"ze":7.86,"v":0.012},{"x":265.78,"z":7.86,"xe":265.98,"ze":7.85,"v":0.012},{"x":266.28,"z":7.86,"xe":266.49,"ze":7.84,"v":0.012},{"x":266.78,"z":7.86,"xe":266.97,"ze":7.84,"v":0.011},{"x":267.28,"z":7.86,"xe":267.47,"ze":7.84,"v":0.011},{"x":267.79,"z":7.86,"xe":267.96,"ze":7.84,"v":0.01},{"x":268.29,"z":7.86,"xe":268.46,"ze":7.84,"v":0.01},{"x":268.79,"z":7.86,"xe":268.96,"ze":7.84,"v":0.01},{"x":269.29,"z":7.86,"xe":269.45,"ze":7.84,"v":0.01},{"x":269.79,"z":7.86,"xe":269.95,"ze":7.85,"v":0.009},
{"x":250.25,"z":7.61,"xe":250.47,"ze":7.61,"v":0.013},{"x":250.75,"z":7.61,"xe":250.96,"ze":7.61,"v":0.013},{"x":251.25,"z":7.61,"xe":251.46,"ze":7.6,"v":0.013},{"x":251.75,"z":7.61,"xe":251.96,"ze":7.6,"v":0.012},{"x":252.25,"z":7.61,"xe":252.46,"ze":7.6,"v":0.012},{"x":252.76,"z":7.61,"xe":252.93,"ze":7.59,"v":0.01},{"x":253.26,"z":7.61,"xe":253.43,"ze":7.59,"v":0.01},{"x":253.76,"z":7.61,"xe":253.95,"ze":7.59,"v":0.011},{"x":254.26,"z":7.61,"xe":254.45,"ze":7.59,"v":0.011},{"x":254.76,"z":7.61,"xe":254.93,"ze":7.59,"v":0.01},{"x":255.26,"z":7.61,"xe":255.42,"ze":7.59,"v":0.009},{"x":255.76,"z":7.61,"xe":255.92,"ze":7.59,"v":0.009},{"x":256.26,"z":7.61,"xe":256.42,"ze":7.61,"v":0.009},{"x":256.76,"z":7.61,"xe":256.92,"ze":7.6,"v":0.009},{"x":257.26,"z":7.61,"xe":257.42,"ze":7.61,"v":0.009},{"x":257.77,"z":7.61,"xe":257.93,"ze":7.61,"v":0.009},{"x":258.27,"z":7.61,"xe":258.42,"ze":7.62,"v":0.009},{"x":258.77,"z":7.61,"xe":258.93,"ze":7.61,"v":0.009},{"x":259.27,"z":7.61,"xe":259.42,"ze":7.62,"v":0.009},{"x":259.77,"z":7.61,"xe":259.93,"ze":7.62,"v":0.01},{"x":260.27,"z":7.61,"xe":260.44,"ze":7.62,"v":0.01},{"x":260.77,"z":7.61,"xe":260.94,"ze":7.63,"v":0.01},{"x":261.27,"z":7.61,"xe":261.43,"ze":7.63,"v":0.01},{"x":261.77,"z":7.61,"xe":261.94,"ze":7.63,"v":0.01},{"x":262.27,"z":7.61,"xe":262.45,"ze":7.63,"v":0.01},{"x":262.78,"z":7.61,"xe":262.97,"ze":7.63,"v":0.011},{"x":263.28,"z":7.61,"xe":263.47,"ze":7.63,"v":0.011},{"x":263.78,"z":7.61,"xe":263.96,"ze":7.63,"v":0.011},{"x":264.28,"z":7.61,"xe":264.46,"ze":7.63,"v":0.011},{"x":264.78,"z":7.61,"xe":264.96,"ze":7.61,"v":0.011},{"x":265.28,"z":7.61,"xe":265.46,"ze":7.6,"v":0.011},{"x":265.78,"z":7.61,"xe":265.95,"ze":7.6,"v":0.01},{"x":266.28,"z":7.61,"xe":266.45,"ze":7.59,"v":0.01},{"x":266.78,"z":7.61,"xe":266.95,"ze":7.59,"v":0.01},{"x":267.28,"z":7.61,"xe":267.45,"ze":7.59,"v":0.01},{"x":267.79,"z":7.61,"xe":267.96,"ze":7.59,"v":0.01},{"x":268.29,"z":7.61,"xe":268.46,"ze":7.6,"v":0.01},{"x":268.79,"z":7.61,"xe":268.96,"ze":7.6,"v":0.01},{"x":269.29,"z":7.61,"xe":269.46,"ze":7.6,"v":0.01},{"x":269.79,"z":7.61,"xe":269.96,"ze":7.6,"v":0.01},
{"x":250.25,"z":7.35,"xe":250.44,"ze":7.35,"v":0.011},{"x":250.75,"z":7.35,"xe":250.94,"ze":7.35,"v":0.011},{"x":251.25,"z":7.35,"xe":251.42,"ze":7.35,"v":0.01},{"x":251.75,"z":7.35,"xe":251.92,"ze":7.34,"v":0.01},{"x":252.25,"z":7.35,"xe":252.42,"ze":7.34,"v":0.01},{"x":252.76,"z":7.35,"xe":252.92,"ze":7.33,"v":0.009},{"x":253.26,"z":7.35,"xe":253.42,"ze":7.33,"v":0.009},{"x":253.76,"z":7.35,"xe":253.92,"ze":7.32,"v":0.01},{"x":254.26,"z":7.35,"xe":254.43,"ze":7.33,"v":0.01},{"x":254.76,"z":7.35,"xe":254.93,"ze":7.33,"v":0.01},{"x":255.26,"z":7.35,"xe":255.43,"ze":7.33,"v":0.01},{"x":255.76,"z":7.35,"xe":255.93,"ze":7.34,"v":0.01},{"x":256.26,"z":7.35,"xe":256.43,"ze":7.33,"v":0.01},{"x":256.76,"z":7.35,"xe":256.92,"ze":7.33,"v":0.01},{"x":257.26,"z":7.35,"xe":257.42,"ze":7.34,"v":0.01},{"x":257.77,"z":7.35,"xe":257.93,"ze":7.34,"v":0.009},{"x":258.27,"z":7.35,"xe":258.42,"ze":7.35,"v":0.009},{"x":258.77,"z":7.35,"xe":258.93,"ze":7.35,"v":0.009},{"x":259.27,"z":7.35,"xe":259.43,"ze":7.35,"v":0.01},{"x":259.77,"z":7.35,"xe":259.94,"ze":7.35,"v":0.01},{"x":260.27,"z":7.35,"xe":260.44,"ze":7.35,"v":0.01},{"x":260.77,"z":7.35,"xe":260.93,"ze":7.35,"v":0.009},{"x":261.27,"z":7.35,"xe":261.43,"ze":7.36,"v":0.01},{"x":261.77,"z":7.35,"xe":261.94,"ze":7.36,"v":0.01},{"x":262.27,"z":7.35,"xe":262.45,"ze":7.36,"v":0.01},{"x":262.78,"z":7.35,"xe":262.94,"ze":7.36,"v":0.01},{"x":263.28,"z":7.35,"xe":263.45,"ze":7.35,"v":0.01},{"x":263.78,"z":7.35,"xe":263.94,"ze":7.35,"v":0.01},{"x":264.28,"z":7.35,"xe":264.45,"ze":7.35,"v":0.01},{"x":264.78,"z":7.35,"xe":264.94,"ze":7.34,"v":0.01},{"x":265.28,"z":7.35,"xe":265.44,"ze":7.33,"v":0.009},{"x":265.78,"z":7.35,"xe":265.93,"ze":7.33,"v":0.009},{"x":266.28,"z":7.35,"xe":266.45,"ze":7.33,"v":0.01},{"x":266.78,"z":7.35,"xe":266.94,"ze":7.33,"v":0.01},{"x":267.28,"z":7.35,"xe":267.45,"ze":7.33,"v":0.01},{"x":267.79,"z":7.35,"xe":267.96,"ze":7.33,"v":0.01},{"x":268.29,"z":7.35,"xe":268.46,"ze":7.33,"v":0.01},{"x":268.79,"z":7.35,"xe":268.96,"ze":7.33,"v":0.01},{"x":269.29,"z":7.35,"xe":269.46,"ze":7.33,"v":0.01},{"x":269.79,"z":7.35,"xe":269.96,"ze":7.34,"v":0.01},
{"x":250.25,"z":7.1,"xe":250.41,"ze":7.09,"v":0.01},{"x":250.75,"z":7.1,"xe":250.91,"ze":7.09,"v":0.009},{"x":251.25,"z":7.1,"xe":251.41,"ze":7.08,"v":0.009},{"x":251.75,"z":7.1,"xe":251.91,"ze":7.08,"v":0.01},{"x":252.25,"z":7.1,"xe":252.41,"ze":7.08,"v":0.009},{"x":252.76,"z":7.1,"xe":252.9,"ze":7.08,"v":0.008},{"x":253.26,"z":7.1,"xe":253.42,"ze":7.08,"v":0.009},{"x":253.76,"z":7.1,"xe":253.91,"ze":7.08,"v":0.009},{"x":254.26,"z":7.1,"xe":254.43,"ze":7.08,"v":0.01},{"x":254.76,"z":7.1,"xe":254.95,"ze":7.08,"v":0.011},{"x":255.26,"z":7.1,"xe":255.43,"ze":7.08,"v":0.01},{"x":255.76,"z":7.1,"xe":255.93,"ze":7.08,"v":0.01},{"x":256.26,"z":7.1,"xe":256.43,"ze":7.08,"v":0.01},{"x":256.76,"z":7.1,"xe":256.92,"ze":7.08,"v":0.01},{"x":257.26,"z":7.1,"xe":257.45,"ze":7.09,"v":0.011},{"x":257.77,"z":7.1,"xe":257.94,"ze":7.09,"v":0.01},{"x":258.27,"z":7.1,"xe":258.42,"ze":7.1,"v":0.009},{"x":258.77,"z":7.1,"xe":258.94,"ze":7.1,"v":0.01},{"x":259.27,"z":7.1,"xe":259.43,"ze":7.1,"v":0.01},{"x":259.77,"z":7.1,"xe":259.94,"ze":7.1,"v":0.01},{"x":260.27,"z":7.1,"xe":260.44,"ze":7.1,"v":0.01},{"x":260.77,"z":7.1,"xe":260.93,"ze":7.11,"v":0.009},{"x":261.27,"z":7.1,"xe":261.43,"ze":7.11,"v":0.01},{"x":261.77,"z":7.1,"xe":261.94,"ze":7.11,"v":0.01},{"x":262.27,"z":7.1,"xe":262.45,"ze":7.11,"v":0.01},{"x":262.78,"z":7.1,"xe":262.94,"ze":7.11,"v":0.009},{"x":263.28,"z":7.1,"xe":263.45,"ze":7.1,"v":0.01},{"x":263.78,"z":7.1,"xe":263.94,"ze":7.1,"v":0.009},{"x":264.28,"z":7.1,"xe":264.43,"ze":7.09,"v":0.009},{"x":264.78,"z":7.1,"xe":264.93,"ze":7.08,"v":0.009},{"x":265.28,"z":7.1,"xe":265.42,"ze":7.08,"v":0.008},{"x":265.78,"z":7.1,"xe":265.93,"ze":7.08,"v":0.009},{"x":266.28,"z":7.1,"xe":266.43,"ze":7.08,"v":0.009},{"x":266.78,"z":7.1,"xe":266.95,"ze":7.08,"v":0.01},{"x":267.28,"z":7.1,"xe":267.45,"ze":7.08,"v":0.01},{"x":267.79,"z":7.1,"xe":267.96,"ze":7.08,"v":0.01},{"x":268.29,"z":7.1,"xe":268.46,"ze":7.08,"v":0.01},{"x":268.79,"z":7.1,"xe":268.96,"ze":7.08,"v":0.01},{"x":269.29,"z":7.1,"xe":269.46,"ze":7.08,"v":0.01},{"x":269.79,"z":7.1,"xe":269.97,"ze":7.08,"v":0.011},
{"x":250.25,"z":6.84,"xe":250.4,"ze":6.83,"v":0.009},{"x":250.75,"z":6.84,"xe":250.89,"ze":6.82,"v":0.008},{"x":251.25,"z":6.84,"xe":251.38,"ze":6.82,"v":0.008},{"x":251.75,"z":6.84,"xe":251.91,"ze":6.82,"v":0.009},{"x":252.25,"z":6.84,"xe":252.41,"ze":6.82,"v":0.009},{"x":252.76,"z":6.84,"xe":252.9,"ze":6.82,"v":0.008},{"x":253.26,"z":6.84,"xe":253.42,"ze":6.82,"v":0.009},{"x":253.76,"z":6.84,"xe":253.92,"ze":6.82,"v":0.01},{"x":254.26,"z":6.84,"xe":254.43,"ze":6.82,"v":0.01},{"x":254.76,"z":6.84,"xe":254.93,"ze":6.83,"v":0.01},{"x":255.26,"z":6.84,"xe":255.43,"ze":6.83,"v":0.01},{"x":255.76,"z":6.84,"xe":255.93,"ze":6.83,"v":0.01},{"x":256.26,"z":6.84,"xe":256.43,"ze":6.83,"v":0.01},{"x":256.76,"z":6.84,"xe":256.95,"ze":6.83,"v":0.011},{"x":257.26,"z":6.84,"xe":257.45,"ze":6.83,"v":0.011},{"x":257.77,"z":6.84,"xe":257.94,"ze":6.83,"v":0.01},{"x":258.27,"z":6.84,"xe":258.43,"ze":6.84,"v":0.01},{"x":258.77,"z":6.84,"xe":258.95,"ze":6.84,"v":0.01},{"x":259.27,"z":6.84,"xe":259.43,"ze":6.84,"v":0.01},{"x":259.77,"z":6.84,"xe":259.94,"ze":6.84,"v":0.01},{"x":260.27,"z":6.84,"xe":260.44,"ze":6.85,"v":0.01},{"x":260.77,"z":6.84,"xe":260.93,"ze":6.85,"v":0.009},{"x":261.27,"z":6.84,"xe":261.43,"ze":6.85,"v":0.01},{"x":261.77,"z":6.84,"xe":261.93,"ze":6.85,"v":0.009},{"x":262.27,"z":6.84,"xe":262.43,"ze":6.85,"v":0.009},{"x":262.78,"z":6.84,"xe":262.94,"ze":6.85,"v":0.009},{"x":263.28,"z":6.84,"xe":263.43,"ze":6.85,"v":0.009},{"x":263.78,"z":6.84,"xe":263.93,"ze":6.84,"v":0.009},{"x":264.28,"z":6.84,"xe":264.43,"ze":6.84,"v":0.009},{"x":264.78,"z":6.84,"xe":264.92,"ze":6.84,"v":0.008},{"x":265.28,"z":6.84,"xe":265.43,"ze":6.83,"v":0.009},{"x":265.78,"z":6.84,"xe":265.93,"ze":6.83,"v":0.009},{"x":266.28,"z":6.84,"xe":266.45,"ze":6.82,"v":0.01},{"x":266.78,"z":6.84,"xe":266.94,"ze":6.82,"v":0.01},{"x":267.28,"z":6.84,"xe":267.47,"ze":6.82,"v":0.011},{"x":267.79,"z":6.84,"xe":267.96,"ze":6.82,"v":0.01},{"x":268.29,"z":6.84,"xe":268.46,"ze":6.83,"v":0.01},{"x":268.79,"z":6.84,"xe":268.97,"ze":6.82,"v":0.011},{"x":269.29,"z":6.84,"xe":269.46,"ze":6.82,"v":0.01},{"x":269.79,"z":6.84,"xe":269.97,"ze":6.82,"v":0.011},
{"x":250.25,"z":6.59,"xe":250.38,"ze":6.58,"v":0.008},{"x":250.75,"z":6.59,"xe":250.89,"ze":6.58,"v":0.008},{"x":251.25,"z":6.59,"xe":251.38,"ze":6.58,"v":0.008},{"x":251.75,"z":6.59,"xe":251.91,"ze":6.58,"v":0.009},{"x":252.25,"z":6.59,"xe":252.41,"ze":6.58,"v":0.009},{"x":252.76,"z":6.59,"xe":252.9,"ze":6.58,"v":0.008},{"x":253.26,"z":6.59,"xe":253.42,"ze":6.58,"v":0.009},{"x":253.76,"z":6.59,"xe":253.91,"ze":6.58,"v":0.009},{"x":254.26,"z":6.59,"xe":254.43,"ze":6.58,"v":0.01},{"x":254.76,"z":6.59,"xe":254.95,"ze":6.58,"v":0.011},{"x":255.26,"z":6.59,"xe":255.43,"ze":6.58,"v":0.01},{"x":255.76,"z":6.59,"xe":255.93,"ze":6.58,"v":0.01},{"x":256.26,"z":6.59,"xe":256.45,"ze":6.58,"v":0.011},{"x":256.76,"z":6.59,"xe":256.95,"ze":6.58,"v":0.011},{"x":257.26,"z":6.59,"xe":257.45,"ze":6.58,"v":0.011},{"x":257.77,"z":6.59,"xe":257.94,"ze":6.58,"v":0.01},{"x":258.27,"z":6.59,"xe":258.43,"ze":6.59,"v":0.01},{"x":258.77,"z":6.59,"xe":258.95,"ze":6.59,"v":0.01},{"x":259.27,"z":6.59,"xe":259.43,"ze":6.6,"v":0.01},{"x":259.77,"z":6.59,"xe":259.94,"ze":6.6,"v":0.01},{"x":260.27,"z":6.59,"xe":260.44,"ze":6.6,"v":0.01},{"x":260.77,"z":6.59,"xe":260.93,"ze":6.6,"v":0.009},{"x":261.27,"z":6.59,"xe":261.43,"ze":6.61,"v":0.01},{"x":261.77,"z":6.59,"xe":261.93,"ze":6.61,"v":0.009},{"x":262.27,"z":6.59,"xe":262.43,"ze":6.61,"v":0.009},{"x":262.78,"z":6.59,"xe":262.94,"ze":6.6,"v":0.009},{"x":263.28,"z":6.59,"xe":263.43,"ze":6.6,"v":0.009},{"x":263.78,"z":6.59,"xe":263.93,"ze":6.59,"v":0.009},{"x":264.28,"z":6.59,"xe":264.43,"ze":6.59,"v":0.009},{"x":264.78,"z":6.59,"xe":264.93,"ze":6.59,"v":0.009},{"x":265.28,"z":6.59,"xe":265.43,"ze":6.58,"v":0.009},{"x":265.78,"z":6.59,"xe":265.93,"ze":6.59,"v":0.009},{"x":266.28,"z":6.59,"xe":266.43,"ze":6.59,"v":0.009},{"x":266.78,"z":6.59,"xe":266.94,"ze":6.58,"v":0.01},{"x":267.28,"z":6.59,"xe":267.44,"ze":6.58,"v":0.009},{"x":267.79,"z":6.59,"xe":267.95,"ze":6.58,"v":0.009},{"x":268.29,"z":6.59,"xe":268.46,"ze":6.58,"v":0.01},{"x":268.79,"z":6.59,"xe":268.96,"ze":6.58,"v":0.01},{"x":269.29,"z":6.59,"xe":269.46,"ze":6.58,"v":0.01},{"x":269.79,"z":6.59,"xe":269.97,"ze":6.58,"v":0.011},
{"x":250.25,"z":6.33,"xe":250.38,"ze":6.33,"v":0.008},{"x":250.75,"z":6.33,"xe":250.89,"ze":6.33,"v":0.008},{"x":251.25,"z":6.33,"xe":251.38,"ze":6.33,"v":0.008},{"x":251.75,"z":6.33,"xe":251.91,"ze":6.33,"v":0.009},{"x":252.25,"z":6.33,"xe":252.41,"ze":6.33,"v":0.009},{"x":252.76,"z":6.33,"xe":252.91,"ze":6.33,"v":0.009},{"x":253.26,"z":6.33,"xe":253.42,"ze":6.33,"v":0.009},{"x":253.76,"z":6.33,"xe":253.91,"ze":6.33,"v":0.009},{"x":254.26,"z":6.33,"xe":254.43,"ze":6.33,"v":0.01},{"x":254.76,"z":6.33,"xe":254.93,"ze":6.33,"v":0.01},{"x":255.26,"z":6.33,"xe":255.42,"ze":6.33,"v":0.009},{"x":255.76,"z":6.33,"xe":255.93,"ze":6.33,"v":0.01},{"x":256.26,"z":6.33,"xe":256.43,"ze":6.33,"v":0.01},{"x":256.76,"z":6.33,"xe":256.92,"ze":6.33,"v":0.01},{"x":257.26,"z":6.33,"xe":257.45,"ze":6.33,"v":0.011},{"x":257.77,"z":6.33,"xe":257.94,"ze":6.33,"v":0.01},{"x":258.27,"z":6.33,"xe":258.43,"ze":6.33,"v":0.01},{"x":258.77,"z":6.33,"xe":258.95,"ze":6.34,"v":0.01},{"x":259.27,"z":6.33,"xe":259.43,"ze":6.34,"v":0.01},{"x":259.77,"z":6.33,"xe":259.94,"ze":6.34,"v":0.01},{"x":260.27,"z":6.33,"xe":260.44,"ze":6.35,"v":0.01},{"x":260.77,"z":6.33,"xe":260.93,"ze":6.35,"v":0.009},{"x":261.27,"z":6.33,"xe":261.43,"ze":6.35,"v":0.01},{"x":261.77,"z":6.33,"xe":261.93,"ze":6.35,"v":0.009},{"x":262.27,"z":6.33,"xe":262.43,"ze":6.35,"v":0.009},{"x":262.78,"z":6.33,"xe":262.92,"ze":6.35,"v":0.008},{"x":263.28,"z":6.33,"xe":263.43,"ze":6.34,"v":0.009},{"x":263.78,"z":6.33,"xe":263.94,"ze":6.34,"v":0.009},{"x":264.28,"z":6.33,"xe":264.43,"ze":6.33,"v":0.009},{"x":264.78,"z":6.33,"xe":264.94,"ze":6.34,"v":0.009},{"x":265.28,"z":6.33,"xe":265.43,"ze":6.33,"v":0.009},{"x":265.78,"z":6.33,"xe":265.95,"ze":6.33,"v":0.01},{"x":266.28,"z":6.33,"xe":266.45,"ze":6.33,"v":0.01},{"x":266.78,"z":6.33,"xe":266.94,"ze":6.33,"v":0.01},{"x":267.28,"z":6.33,"xe":267.45,"ze":6.33,"v":0.01},{"x":267.79,"z":6.33,"xe":267.95,"ze":6.33,"v":0.01},{"x":268.29,"z":6.33,"xe":268.46,"ze":6.33,"v":0.01},{"x":268.79,"z":6.33,"xe":268.96,"ze":6.33,"v":0.01},{"x":269.29,"z":6.33,"xe":269.46,"ze":6.33,"v":0.01},{"x":269.79,"z":6.33,"xe":269.96,"ze":6.33,"v":0.01},
{"x":250.25,"z":6.08,"xe":250.38,"ze":6.07,"v":0.008},{"x":250.75,"z":6.08,"xe":250.91,"ze":6.08,"v":0.009},{"x":251.25,"z":6.08,"xe":251.4,"ze":6.07,"v":0.009},{"x":251.75,"z":6.08,"xe":251.91,"ze":6.08,"v":0.009},{"x":252.25,"z":6.08,"xe":252.41,"ze":6.07,"v":0.009},{"x":252.76,"z":6.08,"xe":252.91,"ze":6.07,"v":0.009},{"x":253.26,"z":6.08,"xe":253.42,"ze":6.07,"v":0.009},{"x":253.76,"z":6.08,"xe":253.91,"ze":6.08,"v":0.009},{"x":254.26,"z":6.08,"xe":254.43,"ze":6.07,"v":0.01},{"x":254.76,"z":6.08,"xe":254.93,"ze":6.08,"v":0.01},{"x":255.26,"z":6.08,"xe":255.42,"ze":6.08,"v":0.009},{"x":255.76,"z":6.08,"xe":255.93,"ze":6.08,"v":0.01},{"x":256.26,"z":6.08,"xe":256.43,"ze":6.07,"v":0.01},{"x":256.76,"z":6.08,"xe":256.92,"ze":6.07,"v":0.01},{"x":257.26,"z":6.08,"xe":257.45,"ze":6.07,"v":0.011},{"x":257.77,"z":6.08,"xe":257.94,"ze":6.07,"v":0.01},{"x":258.27,"z":6.08,"xe":258.43,"ze":6.08,"v":0.01},{"x":258.77,"z":6.08,"xe":258.95,"ze":6.08,"v":0.01},{"x":259.27,"z":6.08,"xe":259.43,"ze":6.08,"v":0.01},{"x":259.77,"z":6.08,"xe":259.94,"ze":6.09,"v":0.01},{"x":260.27,"z":6.08,"xe":260.44,"ze":6.09,"v":0.01},{"x":260.77,"z":6.08,"xe":260.93,"ze":6.09,"v":0.009},{"x":261.27,"z":6.08,"xe":261.43,"ze":6.09,"v":0.01},{"x":261.77,"z":6.08,"xe":261.93,"ze":6.09,"v":0.009},{"x":262.27,"z":6.08,"xe":262.43,"ze":6.09,"v":0.009},{"x":262.78,"z":6.08,"xe":262.92,"ze":6.09,"v":0.008},{"x":263.28,"z":6.08,"xe":263.43,"ze":6.08,"v":0.009},{"x":263.78,"z":6.08,"xe":263.94,"ze":6.08,"v":0.009},{"x":264.28,"z":6.08,"xe":264.45,"ze":6.08,"v":0.01},{"x":264.78,"z":6.08,"xe":264.94,"ze":6.08,"v":0.01},{"x":265.28,"z":6.08,"xe":265.43,"ze":6.08,"v":0.009},{"x":265.78,"z":6.08,"xe":265.93,"ze":6.07,"v":0.009},{"x":266.28,"z":6.08,"xe":266.45,"ze":6.07,"v":0.01},{"x":266.78,"z":6.08,"xe":266.94,"ze":6.07,"v":0.01},{"x":267.28,"z":6.08,"xe":267.45,"ze":6.07,"v":0.01},{"x":267.79,"z":6.08,"xe":267.96,"ze":6.07,"v":0.01},{"x":268.29,"z":6.08,"xe":268.46,"ze":6.07,"v":0.01},{"x":268.79,"z":6.08,"xe":268.96,"ze":6.07,"v":0.01},{"x":269.29,"z":6.08,"xe":269.46,"ze":6.07,"v":0.01},{"x":269.79,"z":6.08,"xe":269.96,"ze":6.07,"v":0.01}
],"bar":[{"v0":0.0075,"v1":0.098}]},"vconcat":[{"width":2430,"height":609,"layer":[{"data":{"name":"arrows"},"mark":{"type":"rule","clip":true,"size":3},"encoding":{"x":{"field":"x","type":"quantitative","scale":{"domain":[250,270],"nice":false,"zero":false},"axis":{"orient":"bottom","values":[250,252,254,256,258,260,262,264,266,268,270],"format":"d","tickSize":31,"tickWidth":2,"domainWidth":3,"labelPadding":76,"labelBaseline":"alphabetic","title":"x, m","titleX":2253,"titleY":200,"titleAlign":"left","titleAnchor":"start","titleBaseline":"alphabetic"}},"x2":{"field":"xe"},"y":{"field":"z","type":"quantitative","scale":{"domain":[6,11],"nice":false,"zero":false},"axis":{"orient":"left","values":[6,8,10],"format":"d","tickSize":30,"tickWidth":2,"domainWidth":2,"labelPadding":7,"labelBaseline":"middle","labelOffset":3,"title":"z, m","titleAngle":0,"titleX":-319,"titleY":120,"titleAlign":"left","titleAnchor":"start","titleBaseline":"alphabetic"}},"y2":{"field":"ze"},"color":{"field":"v","type":"quantitative","scale":{"domain":[0.0075,0.098],"range":["#0000ff","#ff0000"],"interpolate":"rgb"},"legend":null}}},{"data":{"name":"arrows"},"mark":{"type":"point","filled":true,"opacity":1,"clip":true,"strokeWidth":0,"shape":"M-2.3,-1L0,0L-2.3,1Z"},"encoding":{"x":{"field":"xe","type":"quantitative","scale":{"domain":[250,270],"nice":false,"zero":false},"axis":{"orient":"top","values":[250,252,254,256,258,260,262,264,266,268,270],"labels":false,"tickSize":30,"tickWidth":2,"domainWidth":3,"title":null}},"y":{"field":"ze","type":"quantitative","scale":{"domain":[6,11],"nice":false,"zero":false},"axis":{"orient":"right","values":[6,8,10],"labels":false,"tickSize":30,"tickWidth":2,"domainWidth":2,"title":null}},"color":{"field":"v","type":"quantitative","scale":{"domain":[0.0075,0.098],"range":["#0000ff","#ff0000"],"interpolate":"rgb"},"legend":null},"size":{"field":"v","type":"quantitative","scale":{"domain":[0.008,0.012,0.016,0.021,0.027,0.032,0.04,0.052,0.065,0.081,0.09,0.095],"range":[36,49,64,100,144,169,324,576,784,1225,1444,1444],"zero":false},"legend":null}}}],"resolve":{"axis":{"x":"independent","y":"independent"}}},{"width":2430,"height":103,"data":{"name":"bar"},"mark":{"type":"rect","stroke":"black","strokeWidth":3,"fill":{"gradient":"linear","x1":0,"y1":0,"x2":1,"y2":0,"stops":[{"offset":0,"color":"#0000ff"},{"offset":1,"color":"#ff0000"}]}},"encoding":{"x":{"field":"v0","type":"quantitative","scale":{"domain":[-0.02243,0.11333],"nice":false,"zero":false},"axis":{"orient":"bottom","domain":false,"values":[0.01,0.02,0.03,0.04,0.05,0.06,0.07,0.08,0.09],"format":".2f","tickSize":32,"tickWidth":2,"labelFontSize":66,"labelAngle":45,"labelAlign":"center","labelBaseline":"middle","labelPadding":84,"title":"v, m/s","titleX":1922,"titleY":257,"titleAlign":"left","titleAnchor":"start","titleBaseline":"alphabetic"}},"x2":{"field":"v1"}}}]}
